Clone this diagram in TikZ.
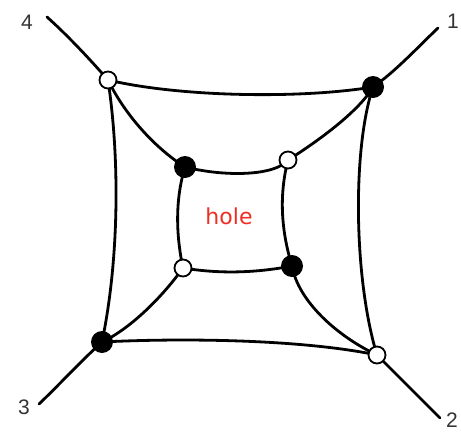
\documentclass[tikz,border=0pt]{standalone}
\usepackage{fontspec}
\setmainfont{Liberation Sans}
\newfontfamily\holefont{DejaVu Sans}
\usetikzlibrary{backgrounds}
\definecolor{holered}{RGB}{240,45,35}
\begin{document}
\begin{tikzpicture}[x=1pt,y=-1pt,
  edge/.style={line width=2.8pt, line cap=round},
  bdot/.style={circle, fill=black, minimum size=22pt, inner sep=0pt},
  wdot/.style={circle, draw=black, fill=white, line width=1.8pt, minimum size=17pt, inner sep=0pt},
  lab/.style={font=\fontsize{21}{24}\selectfont, text=black!80, inner sep=0pt}]
\useasboundingbox (0,0) rectangle (461,434);
% outer ring
\node[wdot] (o4) at (108,80) {};
\node[bdot] (o1) at (373,87) {};
\node[bdot] (o3) at (102,342) {};
\node[wdot] (o2) at (377,355) {};
% inner ring
\node[bdot] (i1) at (185,167) {};
\node[wdot] (i2) at (288,160) {};
\node[wdot] (i3) at (183,268) {};
\node[bdot] (i4) at (292,266) {};
% free ends
\coordinate (e4) at (47,17);
\coordinate (e1) at (438,28);
\coordinate (e3) at (39,404);
\coordinate (e2) at (440,418);
% labels
\node[lab] (l4) at (27,22) {4};
\node[lab] (l1) at (453,21) {1};
\node[lab] (l3) at (24,407) {3};
\node[lab] (l2) at (452,420) {2};
\node[font=\holefont\fontsize{22}{26}\selectfont, text=holered, inner sep=0pt] (hole) at (229,216) {hole};
\begin{pgfonlayer}{background}
% outer edges
\draw[edge] (o4.center) .. controls (180,97) and (300,99) .. (o1.center);
\draw[edge] (o4.center) .. controls (120,160) and (119,260) .. (o3.center);
\draw[edge] (o1.center) .. controls (352,150) and (354,280) .. (o2.center);
\draw[edge] (o3.center) .. controls (180,338) and (300,339) .. (o2.center);
% inner edges
\draw[edge] (i1.center) .. controls (225,177) and (275,176) .. (i2.center);
\draw[edge] (i1.center) .. controls (175,200) and (176,235) .. (i3.center);
\draw[edge] (i2.center) .. controls (279,195) and (281,230) .. (i4.center);
\draw[edge] (i3.center) .. controls (220,274) and (255,273) .. (i4.center);
% spokes
\draw[edge] (o4.center) .. controls (125,115) and (155,148) .. (i1.center);
\draw[edge] (o1.center) .. controls (360,110) and (320,140) .. (i2.center);
\draw[edge] (o3.center) .. controls (128,330) and (160,300) .. (i3.center);
\draw[edge] (o2.center) .. controls (335,335) and (298,300) .. (i4.center);
% tails
\draw[edge] (o4.center) .. controls (88,57) and (65,33) .. (e4);
\draw[edge] (o1.center) .. controls (395,72) and (420,45) .. (e1);
\draw[edge] (o3.center) .. controls (80,362) and (58,386) .. (e3);
\draw[edge] (o2.center) .. controls (395,373) and (418,396) .. (e2);
\end{pgfonlayer}
\end{tikzpicture}
\end{document}
